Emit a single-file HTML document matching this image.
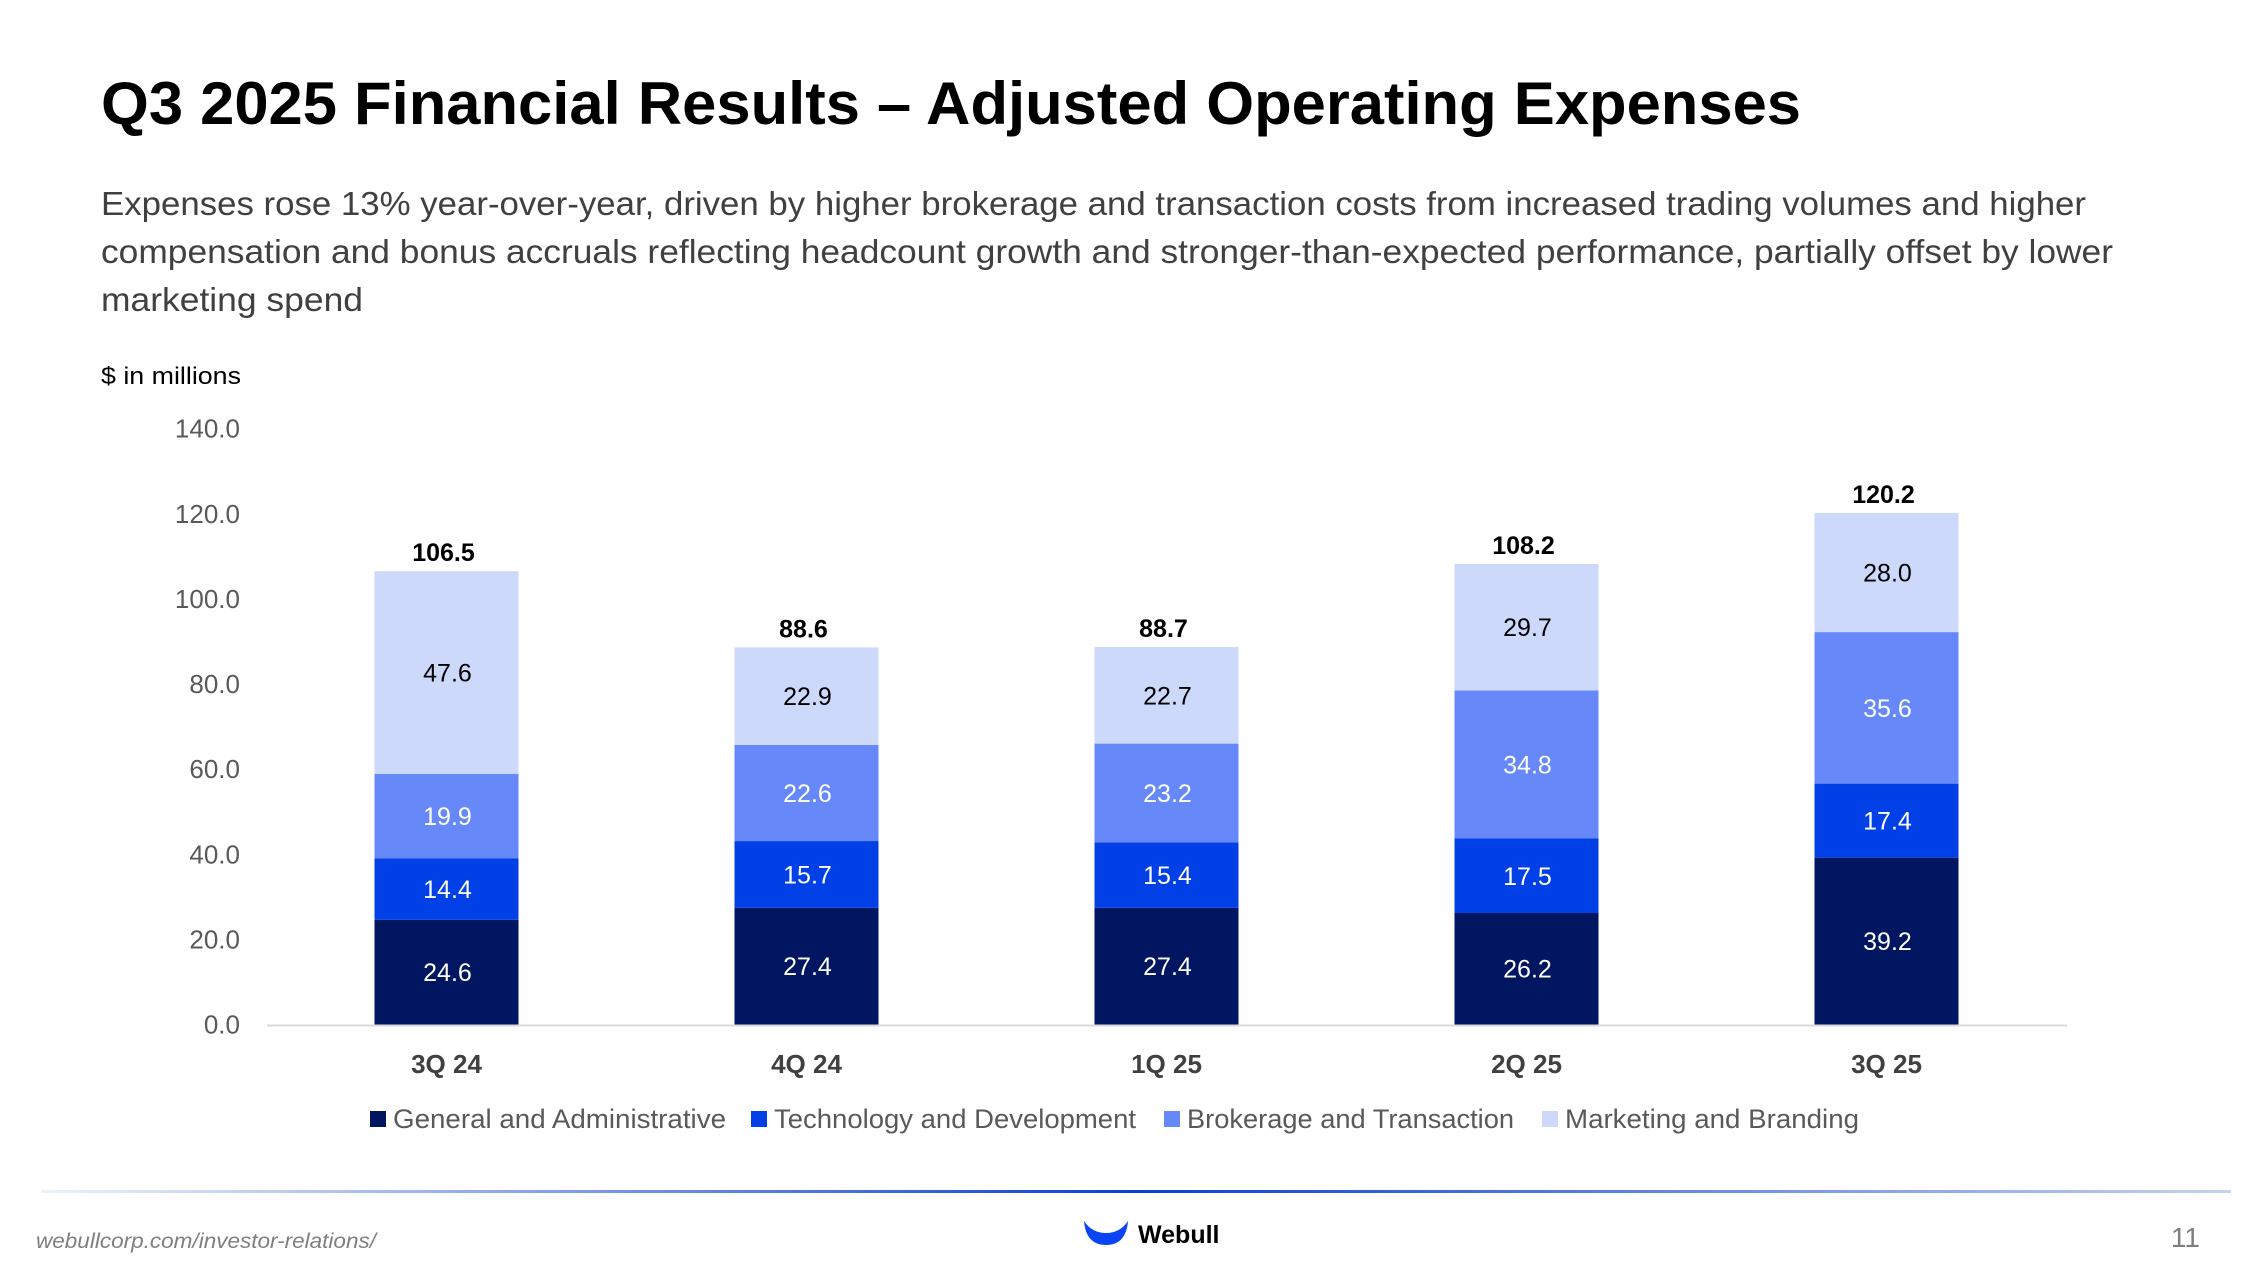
<!DOCTYPE html>
<html><head><meta charset="utf-8">
<style>
body{margin:0;width:2267px;height:1275px;background:#fff;overflow:hidden;font-family:"Liberation Sans",sans-serif;}
svg text{font-family:"Liberation Sans",sans-serif;}
</style></head>
<body>
<svg id="s" width="2267" height="1275" xmlns="http://www.w3.org/2000/svg">
<text x="101" y="124" font-size="60" font-weight="bold" fill="#000" textLength="1700" lengthAdjust="spacingAndGlyphs">Q3 2025 Financial Results – Adjusted Operating Expenses</text>
<g font-size="33" fill="#404040">
<text x="101" y="215" textLength="1985" lengthAdjust="spacingAndGlyphs">Expenses rose 13% year-over-year, driven by higher brokerage and transaction costs from increased trading volumes and higher</text>
<text x="101" y="263" textLength="2012" lengthAdjust="spacingAndGlyphs">compensation and bonus accruals reflecting headcount growth and stronger-than-expected performance, partially offset by lower</text>
<text x="101" y="311" textLength="262" lengthAdjust="spacingAndGlyphs">marketing spend</text>
</g>
<text x="101" y="384" font-size="24" fill="#000" textLength="140" lengthAdjust="spacingAndGlyphs">$ in millions</text>
<g id="chart"></g>
<defs><linearGradient id="fl" x1="0" x2="1"><stop offset="0" stop-color="#eef2fc"/><stop offset="0.5" stop-color="#0a3fd6"/><stop offset="1" stop-color="#c5d2f2"/></linearGradient></defs>
<rect x="41" y="1190" width="2190" height="3" fill="url(#fl)"/>
<text x="36" y="1248" font-size="21" font-style="italic" fill="#7f7f7f" textLength="340" lengthAdjust="spacingAndGlyphs">webullcorp.com/investor-relations/</text>
<path d="M1084 1221 Q1086 1245 1106 1245 Q1126 1245 1128 1221 Q1120 1233 1106 1233 Q1092 1233 1084 1221 Z" fill="#0a45f5"/>
<text x="1138" y="1243" font-size="25" font-weight="bold" fill="#000">Webull</text>
<text x="2200" y="1247" font-size="28" fill="#7f7f7f" text-anchor="end">11</text>
</svg>
<script>
const categories=["3Q 24","4Q 24","1Q 25","2Q 25","3Q 25"];
const seriesNames=["General and Administrative","Technology and Development","Brokerage and Transaction","Marketing and Branding"];
const ga=[24.6,27.4,27.4,26.2,39.2];
const tech=[14.4,15.7,15.4,17.5,17.4];
const brok=[19.9,22.6,23.2,34.8,35.6];
const mkt=[47.6,22.9,22.7,29.7,28.0];
const totals=[106.5,88.6,88.7,108.2,120.2];
const ticks=[0,20,40,60,80,100,120,140];
const colors=["#001660","#0040e6","#6688f8","#ccd9fb"];
const labelColors=["#fff","#fff","#fff","#000"];
const NS="http://www.w3.org/2000/svg";
const g=document.getElementById('chart');
const y0=1024.5,pxPer=4.256,x0=446.5,step=360,bw=144;
const y=v=>y0-v*pxPer;
const x=i=>x0+i*step;
function mk(t,a){const e=document.createElementNS(NS,t);for(const k in a)e.setAttribute(k,a[k]);g.appendChild(e);return e;}
ticks.forEach(t=>{const e=mk('text',{x:240,y:y(t)+9,'font-size':26,fill:'#595959','text-anchor':'end'});e.textContent=t.toFixed(1);

});
const ax=mk('rect',{x:267,y:y0,width:1800,height:2,fill:'#d9d9d9'});


const series=[ga,tech,brok,mkt];
categories.forEach((c,i)=>{
 let base=0;
 series.forEach((s,k)=>{
  const v=s[i];
  const r=mk('rect',{x:x(i)-bw/2,y:y(base+v),width:bw,height:v*pxPer,fill:colors[k]});
  
  
  const t=mk('text',{x:x(i)+1,y:y(base+v/2)+9,'font-size':25,fill:labelColors[k],'text-anchor':'middle'});
  t.textContent=v.toFixed(1);
  
  
  base+=v;
 });
 const tt=mk('text',{x:x(i)-3,y:y(totals[i])-10,'font-size':25,'font-weight':'bold',fill:'#000','text-anchor':'middle'});
 tt.textContent=totals[i].toFixed(1);
 
 
 const cl=mk('text',{x:x(i),y:1073,'font-size':26,'font-weight':'bold',fill:'#404040','text-anchor':'middle'});
 cl.textContent=c;
 
 
});
const lx=[370,751,1164,1542];
const lw=[333,362,327,294];
seriesNames.forEach((n,k)=>{
 const m=mk('rect',{x:lx[k],y:1111,width:16,height:16,fill:colors[k]});
 
 
 const t=mk('text',{x:lx[k]+23,y:1128,'font-size':27,fill:'#595959',textLength:lw[k],lengthAdjust:'spacingAndGlyphs'});
 t.textContent=n;
 
 
});
</script>
</body></html>
